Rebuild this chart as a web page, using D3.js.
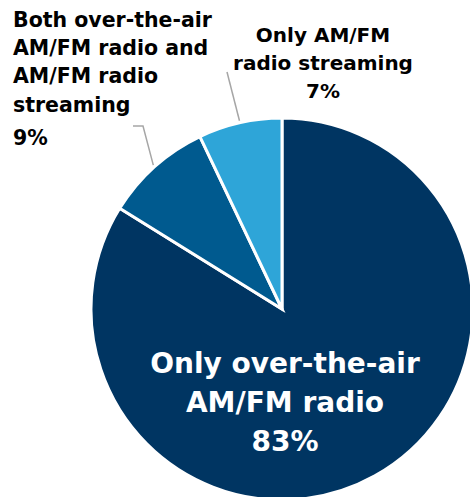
<!DOCTYPE html>
<html>
<head>
<meta charset="utf-8">
<script src="https://cdn.jsdelivr.net/npm/d3@7"></script>
<style>
html,body{margin:0;padding:0;background:#fff;}
svg{display:block;}
text{font-family:"DejaVu Sans",sans-serif;font-weight:bold;}
</style>
</head>
<body>
<svg id="chart" width="470" height="497"></svg>
<script>
const categories = ["Only over-the-air AM/FM radio", "Both over-the-air AM/FM radio and AM/FM radio streaming", "Only AM/FM radio streaming"];
const values = [83, 9, 7];
const colors = ["#003562", "#005a8f", "#2ea5d8"];
const labelLines = [
  ["Only over-the-air", "AM/FM radio", "83%"],
  ["Both over-the-air", "AM/FM radio and", "AM/FM radio", "streaming", "9%"],
  ["Only AM/FM", "radio streaming", "7%"]
];

const svg = d3.select("#chart");
const cx = 282, cy = 309, r = 191;
const g = svg.append("g").attr("transform", `translate(${cx},${cy})`);

const pie = d3.pie().sort(null).value(d => d)(values);
const arc = d3.arc().innerRadius(0).outerRadius(r);

g.selectAll("path.slice").data(pie).join("path")
  .attr("class", "slice")
  .attr("d", arc)
  .attr("fill", (d, i) => colors[i])
  .attr("stroke", "#fff")
  .attr("stroke-width", 3)
  .attr("stroke-linejoin", "miter");

function edgePoint(d, rad) {
  const a = (d.startAngle + d.endAngle) / 2;
  return [cx + rad * Math.sin(a), cy - rad * Math.cos(a)];
}

// leader lines
const lead = svg.append("g").attr("fill", "none").attr("stroke", "#a6a6a6").attr("stroke-width", 1.5);
const pMed = edgePoint(pie[1], r + 2);
lead.append("polyline").attr("points", [[133, 126], [143, 126], pMed].map(p => p.join(",")).join(" "));
const pLight = edgePoint(pie[2], r + 2);
lead.append("polyline").attr("points", [[227, 72], pLight].map(p => p.join(",")).join(" "));

// center label
const c = svg.append("text").attr("fill", "#fff").attr("text-anchor", "middle").attr("font-size", 28);
const cBase = [373, 412, 451];
labelLines[0].forEach((t, i) => c.append("tspan").attr("x", 285).attr("y", cBase[i]).text(t));

// left label
const l = svg.append("text").attr("fill", "#000").attr("text-anchor", "start").attr("font-size", 20.5);
const lBase = [27, 55, 83, 112, 145];
labelLines[1].forEach((t, i) => l.append("tspan").attr("x", 13).attr("y", lBase[i]).text(t));

// right label
const rl = svg.append("text").attr("fill", "#000").attr("text-anchor", "middle").attr("font-size", 20);
const rBase = [42, 70, 98];
labelLines[2].forEach((t, i) => rl.append("tspan").attr("x", 323).attr("y", rBase[i]).text(t));
</script>
</body>
</html>
